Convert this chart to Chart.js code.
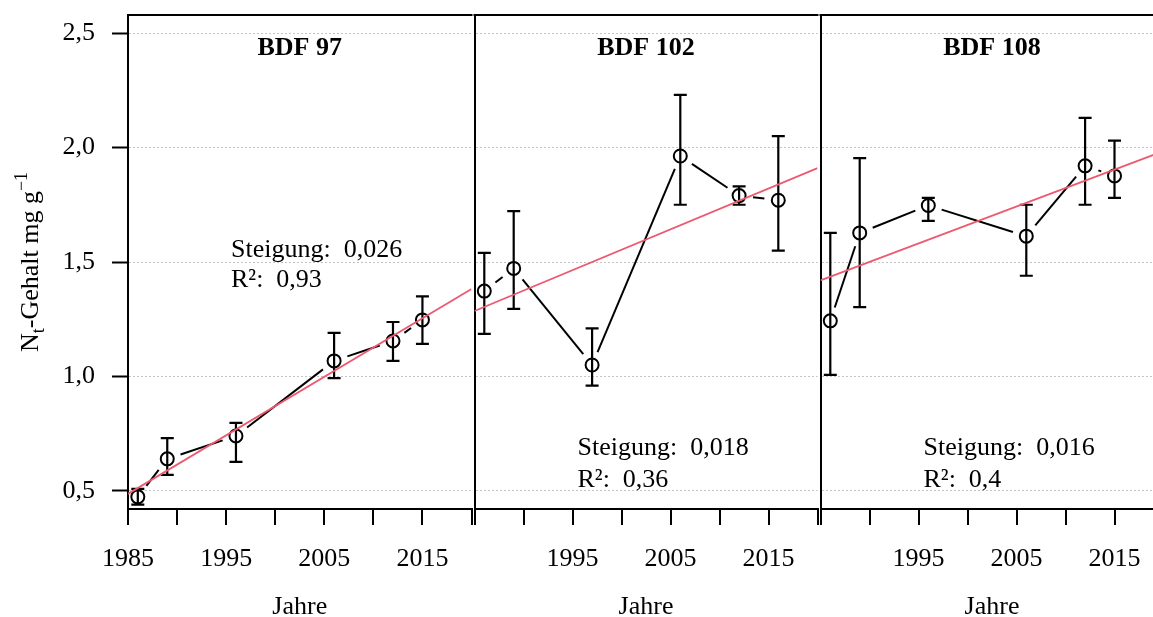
<!DOCTYPE html>
<html><head><meta charset="utf-8">
<script src="https://cdn.jsdelivr.net/npm/chart.js@4/dist/chart.umd.min.js"></script>
<style>
html,body{margin:0;padding:0;background:#fff;overflow:hidden;width:1153px;height:617px;position:relative}
canvas{position:absolute;top:0}
</style></head><body>
<canvas id="k1" width="480" height="617" style="left:0"></canvas>
<canvas id="k2" width="360" height="617" style="left:466px"></canvas>
<canvas id="k3" width="360" height="617" style="left:812px"></canvas>
<script>
// ---- data ----
const panelTitles = ['BDF 97', 'BDF 102', 'BDF 108'];
const years97  = [1986, 1989, 1996, 2006, 2012, 2015];
const mean97   = [0.474, 0.640, 0.740, 1.068, 1.155, 1.247];
const lower97  = [0.440, 0.570, 0.627, 0.993, 1.068, 1.142];
const upper97  = [0.509, 0.731, 0.797, 1.190, 1.238, 1.350];
const years102 = [1986, 1989, 1997, 2006, 2012, 2016];
const mean102  = [1.373, 1.472, 1.050, 1.963, 1.790, 1.770];
const lower102 = [1.186, 1.295, 0.960, 1.750, 1.750, 1.550];
const upper102 = [1.540, 1.722, 1.210, 2.230, 1.830, 2.050];
const years108 = [1986, 1989, 1996, 2006, 2012, 2015];
const mean108  = [1.243, 1.627, 1.747, 1.613, 1.920, 1.876];
const lower108 = [1.007, 1.303, 1.680, 1.440, 1.750, 1.780];
const upper108 = [1.627, 1.954, 1.780, 1.750, 2.130, 2.030];
const trendYears = [1985, 2020];
const trend97  = [0.487, 1.382];
const trend102 = [1.286, 1.910];
const trend108 = [1.420, 1.984];
const slopeLabels = ['0,026', '0,018', '0,016'];
const r2Labels    = ['0,93', '0,36', '0,4'];
const yTicks      = [0.5, 1.0, 1.5, 2.0, 2.5];
const yTickLabels = ['0,5', '1,0', '1,5', '2,0', '2,5'];
const xTicks      = [1985, 1990, 1995, 2000, 2005, 2010, 2015, 2020];
const xLabelsFirst = ['1985', '', '1995', '', '2005', '', '2015', ''];
const xLabelsOther = ['', '', '1995', '', '2005', '', '2015', ''];
const xTitle = 'Jahre';

// ---- styling ----
const FONT = "'Liberation Serif', 'Times New Roman', serif";
const FS = 26;
const RED = '#ec5a70';

const deco = {
  id: 'deco',
  beforeDatasetsDraw(chart, args, o) {
    const {ctx, scales: {x, y}} = chart;
    ctx.save();
    ctx.strokeStyle = '#000';
    ctx.lineWidth = 2.2;
    o.years.forEach((yr, i) => {
      const px = x.getPixelForValue(yr);
      const pl = y.getPixelForValue(o.lower[i]);
      const pu = y.getPixelForValue(o.upper[i]);
      ctx.beginPath();
      ctx.moveTo(px, pl); ctx.lineTo(px, pu);
      ctx.moveTo(px - 6.5, pl); ctx.lineTo(px + 6.5, pl);
      ctx.moveTo(px - 6.5, pu); ctx.lineTo(px + 6.5, pu);
      ctx.stroke();
    });
    ctx.lineWidth = 2;
    const g = 14;
    for (let i = 0; i < o.years.length - 1; i++) {
      const x1 = x.getPixelForValue(o.years[i]), y1 = y.getPixelForValue(o.mean[i]);
      const x2 = x.getPixelForValue(o.years[i + 1]), y2 = y.getPixelForValue(o.mean[i + 1]);
      const d = Math.hypot(x2 - x1, y2 - y1);
      if (d > 2 * g) {
        const ux = (x2 - x1) / d, uy = (y2 - y1) / d;
        ctx.beginPath();
        ctx.moveTo(x1 + ux * g, y1 + uy * g);
        ctx.lineTo(x2 - ux * g, y2 - uy * g);
        ctx.stroke();
      }
    }
    ctx.restore();
  },
  afterDraw(chart, args, o) {
    const {ctx, chartArea: a, scales: {x, y}} = chart;
    ctx.save();
    ctx.strokeStyle = '#000';
    ctx.lineWidth = 2;
    ctx.beginPath();
    ctx.moveTo(a.left - 1, a.top); ctx.lineTo(a.right + 1, a.top);
    ctx.stroke();
    ctx.fillStyle = '#000';
    ctx.font = `bold ${FS}px ${FONT}`;
    ctx.textAlign = 'center';
    ctx.textBaseline = 'middle';
    ctx.fillText(o.title, (a.left + a.right) / 2, 48);
    ctx.font = `${FS}px ${FONT}`;
    ctx.textBaseline = 'alphabetic';
    ctx.fillText(xTitle, (a.left + a.right) / 2, 614);
    ctx.textAlign = 'left';
    const ax = a.left + 103;
    ctx.fillText('Steigung:  ' + o.slope, ax, y.getPixelForValue(o.annY[0]));
    ctx.fillText('R\u00B2:  ' + o.r2, ax, y.getPixelForValue(o.annY[1]));
    if (o.yTitle) {
      ctx.translate(38, 262);
      ctx.rotate(-Math.PI / 2);
      const big = `${FS}px ${FONT}`, small = `${Math.round(FS * 0.7)}px ${FONT}`;
      const parts = [
        {t: 'N', f: big, dy: 0},
        {t: 't', f: small, dy: 6},
        {t: '-Gehalt mg g', f: big, dy: 0},
        {t: '\u22121', f: small, dy: -11}
      ];
      let w = 0;
      parts.forEach(p => { ctx.font = p.f; p.w = ctx.measureText(p.t).width; w += p.w; });
      let cx = -w / 2;
      ctx.textAlign = 'left';
      parts.forEach(p => { ctx.font = p.f; ctx.fillText(p.t, cx, p.dy); cx += p.w; });
    }
    ctx.restore();
  }
};

function zeroPad(ax) {
  ax.paddingTop = 0; ax.paddingBottom = 0; ax.paddingLeft = 0; ax.paddingRight = 0;
}

function makePanel(id, idx, years, mean, lower, upper, trend, xLabels, first, annY) {
  const ctx = document.getElementById(id);
  return new Chart(ctx, {
    type: 'scatter',
    data: {
      datasets: [
        {
          type: 'line',
          data: trendYears.map((yr, i) => ({x: yr, y: trend[i]})),
          borderColor: RED, borderWidth: 1.8, pointRadius: 0, fill: false
        },
        {
          data: years.map((yr, i) => ({x: yr, y: mean[i]})),
          showLine: false, pointStyle: 'circle', pointRadius: 6.5,
          pointBorderColor: '#000', pointBorderWidth: 2,
          pointBackgroundColor: 'rgba(0,0,0,0)'
        }
      ]
    },
    options: {
      responsive: false, animation: false,
      layout: {padding: {left: first ? 0 : 7, right: 7, top: 15, bottom: 0}},
      plugins: {
        legend: {display: false}, tooltip: {enabled: false},
        deco: {years, mean, lower, upper, title: panelTitles[idx],
               slope: slopeLabels[idx], r2: r2Labels[idx], annY, yTitle: first}
      },
      scales: {
        x: {
          type: 'linear', min: 1985, max: 2020,
          afterBuildTicks: ax => { ax.ticks = xTicks.map(v => ({value: v})); },
          ticks: {autoSkip: false, maxRotation: 0, minRotation: 0,
                  callback: (v, i) => xLabels[i],
                  font: {family: FONT, size: FS}, color: '#000', padding: 19},
          grid: {drawOnChartArea: false, color: '#000', lineWidth: 2, tickLength: 16},
          border: {display: true, color: '#000', width: 2},
          afterFit: ax => { ax.height = 108; zeroPad(ax); }
        },
        y: {
          min: 0.421, max: 2.579,
          afterBuildTicks: ax => { ax.ticks = yTicks.map(v => ({value: v})); },
          ticks: {display: first, callback: (v, i) => yTickLabels[i],
                  font: {family: FONT, size: FS}, color: '#000', padding: 17},
          grid: {color: '#c4c4c4', lineWidth: 1, drawTicks: first,
                 tickColor: '#000', tickLength: first ? 16 : 0, tickWidth: 2},
          border: {display: true, color: '#000', width: 2, dash: [2, 2]},
          afterFit: ax => { ax.width = first ? 128 : 0; zeroPad(ax); }
        }
      }
    },
    plugins: [deco]
  });
}

makePanel('k1', 0, years97, mean97, lower97, upper97, trend97, xLabelsFirst, true, [1.522, 1.391]);
makePanel('k2', 1, years102, mean102, lower102, upper102, trend102, xLabelsOther, false, [0.657, 0.517]);
makePanel('k3', 2, years108, mean108, lower108, upper108, trend108, xLabelsOther, false, [0.657, 0.517]);
</script>
</body></html>
